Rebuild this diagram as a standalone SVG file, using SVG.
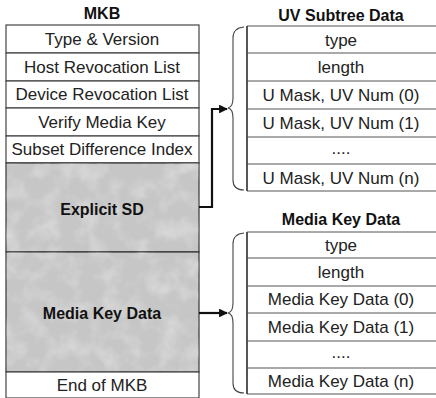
<svg xmlns="http://www.w3.org/2000/svg" width="436" height="398" viewBox="0 0 436 398">
<style>
.t{font-family:"Liberation Sans",Arial,sans-serif;font-size:17px;fill:#222;text-anchor:middle;dominant-baseline:central}
.b{font-family:"Liberation Sans",Arial,sans-serif;font-size:16px;font-weight:bold;fill:#111;text-anchor:middle;dominant-baseline:central}
.cell{fill:#fff;stroke:#444;stroke-width:1.2}
.sh{fill:#c6c6c6;stroke:#333;stroke-width:1.2}
.row{stroke:#555;stroke-width:1.2;fill:none}
.br{fill:none;stroke:#444;stroke-width:1.1}
.conn{fill:none;stroke:#111;stroke-width:2.2}
</style>
<defs>
<filter id="noise" x="0" y="0" width="100%" height="100%">
<feTurbulence type="fractalNoise" baseFrequency="0.05" numOctaves="3" seed="5" result="n"/>
<feColorMatrix in="n" type="matrix" values="0 0 0 0 1  0 0 0 0 1  0 0 0 0 1  1.2 0 0 0 -0.5" result="g"/>
<feComposite in="g" in2="SourceGraphic" operator="in"/>
</filter>
<marker id="ah" viewBox="0 0 10 10" refX="9" refY="5" markerWidth="4" markerHeight="4" orient="auto" markerUnits="strokeWidth">
<path d="M0,0 L10,5 L0,10 z" fill="#111"/>
</marker>
</defs>

<g id="mkb">
<text class="b" x="102" y="13">MKB</text>
<rect class="cell" x="6" y="25" width="193" height="28"/>
<text class="t" x="102" y="39.5">Type &amp; Version</text>
<rect class="cell" x="6" y="53" width="193" height="28"/>
<text class="t" x="102" y="67">Host Revocation List</text>
<rect class="cell" x="6" y="81" width="193" height="27"/>
<text class="t" x="102" y="94.5">Device Revocation List</text>
<rect class="cell" x="6" y="108" width="193" height="28"/>
<text class="t" x="102" y="122">Verify Media Key</text>
<rect class="cell" x="6" y="136" width="193" height="27"/>
<text class="t" x="102" y="149.5">Subset Difference Index</text>
<g id="explicit-sd">
<rect class="sh" x="6" y="163" width="193" height="89"/>
<rect x="6" y="163" width="193" height="89" fill="#fff" opacity="0.6" filter="url(#noise)"/>
<text class="b" x="102" y="209">Explicit SD</text>
</g>
<g id="mkd-block">
<rect class="sh" x="6" y="252" width="193" height="120"/>
<rect x="6" y="252" width="193" height="120" fill="#fff" opacity="0.6" filter="url(#noise)"/>
<text class="b" x="102" y="313">Media Key Data</text>
</g>
<rect class="cell" x="6" y="372" width="193" height="26"/>
<text class="t" x="102" y="385">End of MKB</text>
</g>

<g id="uv-subtree">
<text class="b" x="341" y="15">UV Subtree Data</text>
<path class="row" d="M247,26 H436 M247,53 H436 M247,81 H436 M247,109 H436 M247,137 H436 M247,164 H436 M247,191 H436"/>
<path stroke="#444" stroke-width="1.8" d="M247,26 V191"/>
<text class="t" x="341" y="40">type</text>
<text class="t" x="341" y="67.5">length</text>
<text class="t" x="341" y="95.5">U Mask, UV Num (0)</text>
<text class="t" x="341" y="123.5">U Mask, UV Num (1)</text>
<text class="t" x="341" y="148">....</text>
<text class="t" x="341" y="178">U Mask, UV Num (n)</text>
<path class="br" d="M244,27 Q233,28 233,38 V98 Q233,107 228,108 Q233,109 233,118 V180 Q233,190 244,190"/>
</g>

<g id="media-key-data">
<text class="b" x="341" y="219">Media Key Data</text>
<path class="row" d="M247,232 H436 M247,258 H436 M247,286 H436 M247,313 H436 M247,341 H436 M247,368 H436 M247,394 H436"/>
<path stroke="#444" stroke-width="1.8" d="M247,232 V394"/>
<text class="t" x="341" y="245.5">type</text>
<text class="t" x="341" y="272">length</text>
<text class="t" x="341" y="299.5">Media Key Data (0)</text>
<text class="t" x="341" y="327">Media Key Data (1)</text>
<text class="t" x="341" y="352">....</text>
<text class="t" x="341" y="381">Media Key Data (n)</text>
<path class="br" d="M244,233 Q233,234 233,244 V303 Q233,312 228,313 Q233,314 233,323 V383 Q233,393 244,393"/>
</g>

<g id="connectors">
<path class="conn" d="M199,207 H212 V109 H227" marker-end="url(#ah)"/>
<path class="conn" d="M199,313 H227" marker-end="url(#ah)"/>
</g>
</svg>
